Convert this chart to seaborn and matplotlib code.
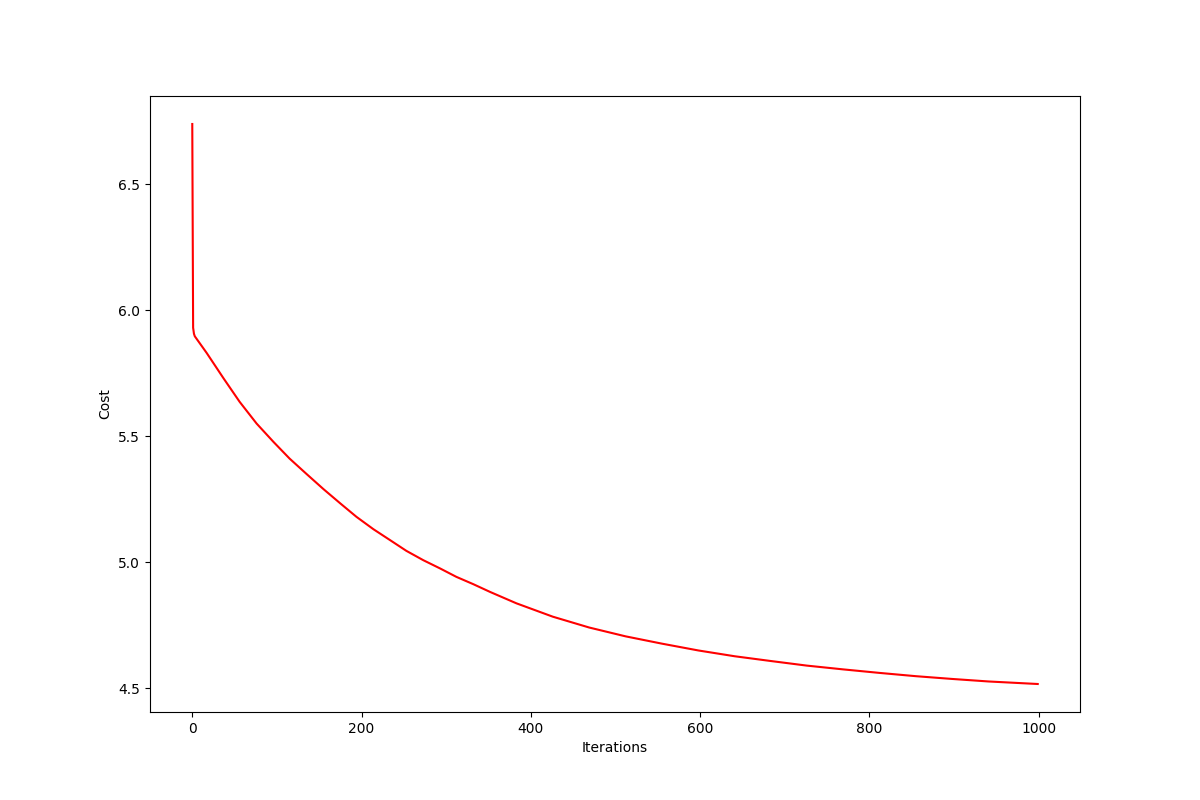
import matplotlib
matplotlib.use("Agg")
import matplotlib.pyplot as plt
import seaborn as sns
import pandas as pd

# cost values
iterations = [0, 1, 2, 3, 17, 37, 56, 76, 96, 115, 135, 155, 175, 194, 214,
              234, 253, 273, 293, 312, 332, 352, 383, 426, 469, 512, 555, 598,
              641, 684, 726, 769, 812, 855, 898, 941, 999]
cost = [6.738, 5.930, 5.906, 5.896, 5.830, 5.729, 5.636, 5.550, 5.477, 5.411,
        5.350, 5.290, 5.233, 5.180, 5.131, 5.087, 5.045, 5.008, 4.975, 4.942,
        4.913, 4.882, 4.837, 4.784, 4.741, 4.706, 4.677, 4.650, 4.627, 4.608,
        4.590, 4.575, 4.561, 4.548, 4.537, 4.527, 4.517]

df = pd.DataFrame({"Iterations": iterations, "Cost": cost})

fig, ax = plt.subplots(figsize=(12, 8), dpi=100)
sns.lineplot(data=df, x="Iterations", y="Cost", color="red", ax=ax)
ax.set_xlabel("Iterations")
ax.set_ylabel("Cost")

plt.savefig("out.png")
